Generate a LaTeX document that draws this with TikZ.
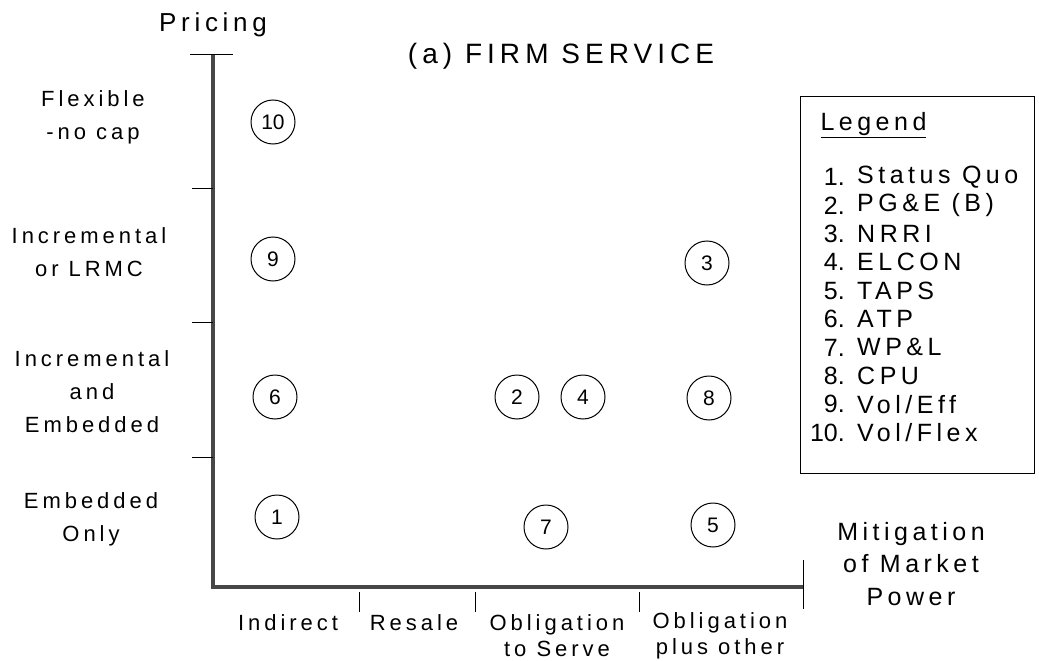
\documentclass[tikz,border=0pt]{standalone}
\usepackage{fontspec}
\setmainfont{Liberation Sans}
\newfontfamily\spacedfont[LetterSpace=18]{Liberation Sans}
\usetikzlibrary{arrows}

\tikzset{
  axisline/.style={line width=4pt,color=black!72},
  tickline/.style={line width=1pt},
  proposal/.style={circle,draw,line width=1pt,minimum size=44pt,inner sep=0pt,
    font=\fontsize{21}{21}\selectfont},
  ylab/.style={align=center,font=\fontsize{22}{33}\selectfont\spacedfont},
  xlab/.style={align=center,font=\fontsize{22}{26}\selectfont\spacedfont},
  legitem/.style={font=\fontsize{25}{25}\selectfont\spacedfont},
  legnum/.style={font=\fontsize{25}{25}\selectfont}
}

\begin{document}
\begin{tikzpicture}[x=1pt,y=-1pt]
        \useasboundingbox (0,0) rectangle (1039,661);
        % axes and ticks
        \draw[axisline] (213,55) -- (213,587) -- (803,587);
        \draw[tickline] (190,55) -- (233,55);
        \foreach \y in {188,322,457}
        \draw[tickline] (192,\y) -- (213,\y);
        \foreach \x in {359,475,639}
        \draw[tickline] (\x,592) -- (\x,612);
        \draw[tickline] (803,560) -- (803,609);

        \node[font=\fontsize{26}{26}\selectfont\spacedfont] (pricing) at (213,25) {Pricing};
        \node[font=\fontsize{28}{28}\selectfont\spacedfont] (title) at (561,56) {(a) FIRM SERVICE};

        % pricing levels
        \node[ylab] (flex) at (93,117) {Flexible\\-no cap};
        \node[ylab] (incr) at (89,252) {Incremental\\or LRMC};
        \node[ylab] (incremb) at (92,392) {Incremental\\and\\Embedded};
        \node[ylab] (emb) at (91,519) {Embedded\\Only};

        % mitigation levels
        \node[xlab] (indirect) at (288,623) {Indirect};
        \node[xlab] (resale) at (414,623) {Resale};
        \node[xlab] (oblig) at (557,636) {Obligation\\to Serve};
        \node[xlab] (obligplus) at (720,636) {Obligation\\plus other};
        \node[align=center,font=\fontsize{25}{32.5}\selectfont\spacedfont] (mitig) at (911,564)
        {Mitigation\\of Market\\Power};

        % proposals
        \foreach \n/\x/\y in {1/277/517,2/517/397,3/707/263,4/583/397,5/713/525,
          6/275/397,7/546/527,8/709/398,9/273/259,10/273/122}
        \node[proposal] (p\n) at (\x,\y) {\n};

        % legend
        \node[draw,line width=1pt,anchor=north west,minimum width=234pt,
          minimum height=377pt] (legend) at (800,96) {};
        \node[legitem,anchor=west] (legtitle) at (817,125) {\underline{Legend}};
        \foreach \t [count=\i,evaluate=\i as \yy using 177+28.4*(\i-1)] in
          {Status Quo,PG\&E (B),NRRI,ELCON,TAPS,ATP,WP\&L,CPU,{Vol/Eff},{Vol/Flex}}
        {
        \node[legnum,anchor=east,inner xsep=0pt] (num\i) at (845,\yy) {\i.};
        \node[legitem,anchor=west,inner xsep=0pt] (item\i) at (857,\yy) {\t};
        }
\end{tikzpicture}
\end{document}
